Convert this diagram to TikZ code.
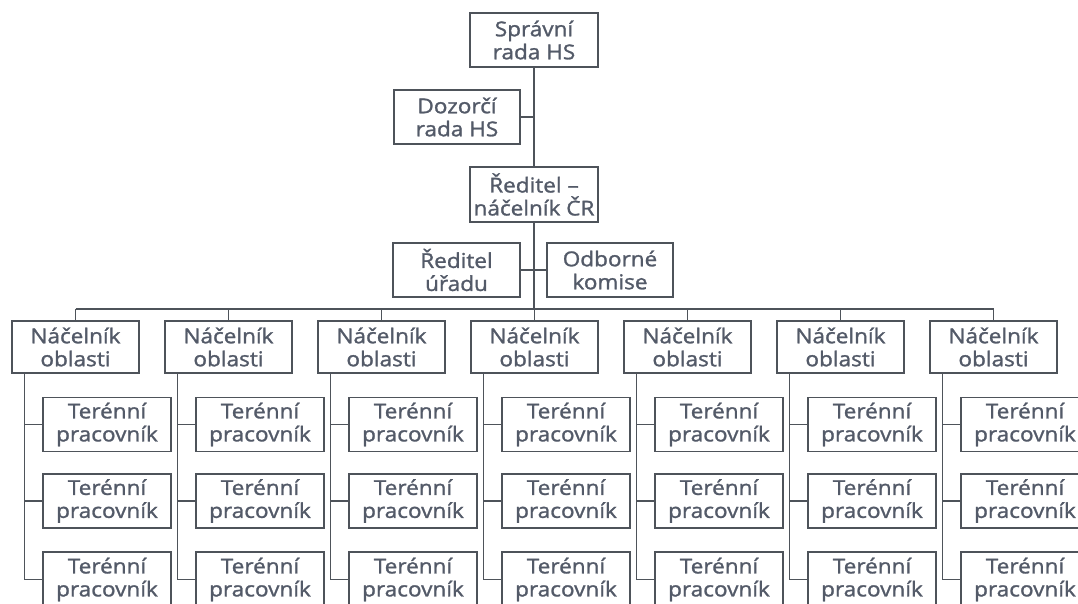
\documentclass[tikz,border=0pt]{standalone}
\usepackage{fontspec}
\setmainfont{Open Sans}[FakeStretch=1.1, RawFeature={embolden=1.3}]
\usetikzlibrary{calc}
\definecolor{txt}{HTML}{535A68}
\definecolor{ln}{HTML}{4E535A}
\tikzset{
  box/.style={draw=ln, line width=1.7pt, fill=white, rectangle, inner sep=0pt,
    minimum width=127pt, minimum height=54pt, align=center, text=txt,
    font=\fontsize{20.5}{23}\selectfont},
  conn/.style={draw=ln, line width=1.7pt}
}
\begin{document}
\begin{tikzpicture}[x=1pt,y=-1pt]
\useasboundingbox (0,0) rectangle (1078,603);
\fill[white] (0,0) rectangle (1078,603);
\clip (0,0) rectangle (1078,603);
% top part
\node[box, minimum width=128pt] (spr) at (534,40) {Správní\\rada HS};
\node[box, minimum width=126pt] (doz) at (457,117) {Dozorčí\\rada HS};
\node[box, minimum width=128pt, minimum height=55pt] (red) at (534,194.5) {Ředitel –\\náčelník ČR};
\node[box] (ur) at (456.5,270) {Ředitel\\úřadu};
\node[box, minimum width=126pt] (odb) at (610,270) {Odborné\\komise};
\coordinate (bus) at (534,309);
\draw[conn] (spr.south) -- (red.north);
\draw[conn] (doz.east) -- (doz.east -| spr.south);
\draw[conn] (red.south) -- (bus);
\draw[conn] (ur.east) -- (odb.west);
% regions
\foreach \i in {0,...,6}{
  \pgfmathsetmacro{\L}{12+153*\i}
  \node[box, minimum height=52pt] (n\i) at (\L+63.5,347) {Náčelník\\oblasti};
  \coordinate (b\i) at (\L+12.5,373);
  \node[box, minimum width=128pt] (t\i a) at (\L+95,424.5) {Terénní\\pracovník};
  \node[box, minimum width=128pt] (t\i b) at (\L+95,501) {Terénní\\pracovník};
  \node[box, minimum width=128pt, minimum height=55pt] (t\i c) at (\L+95,579.5) {Terénní\\pracovník};
  \draw[conn] (n\i.north) -- (n\i.north |- bus);
  \draw[conn] (b\i) -- (b\i |- t\i c.west) -- (t\i c.west);
  \draw[conn] (t\i a.west) -- (t\i a.west -| b\i);
  \draw[conn] (t\i b.west) -- (t\i b.west -| b\i);
}
\draw[conn] (n0.north |- bus) -- (n6.north |- bus);
\end{tikzpicture}
\end{document}
